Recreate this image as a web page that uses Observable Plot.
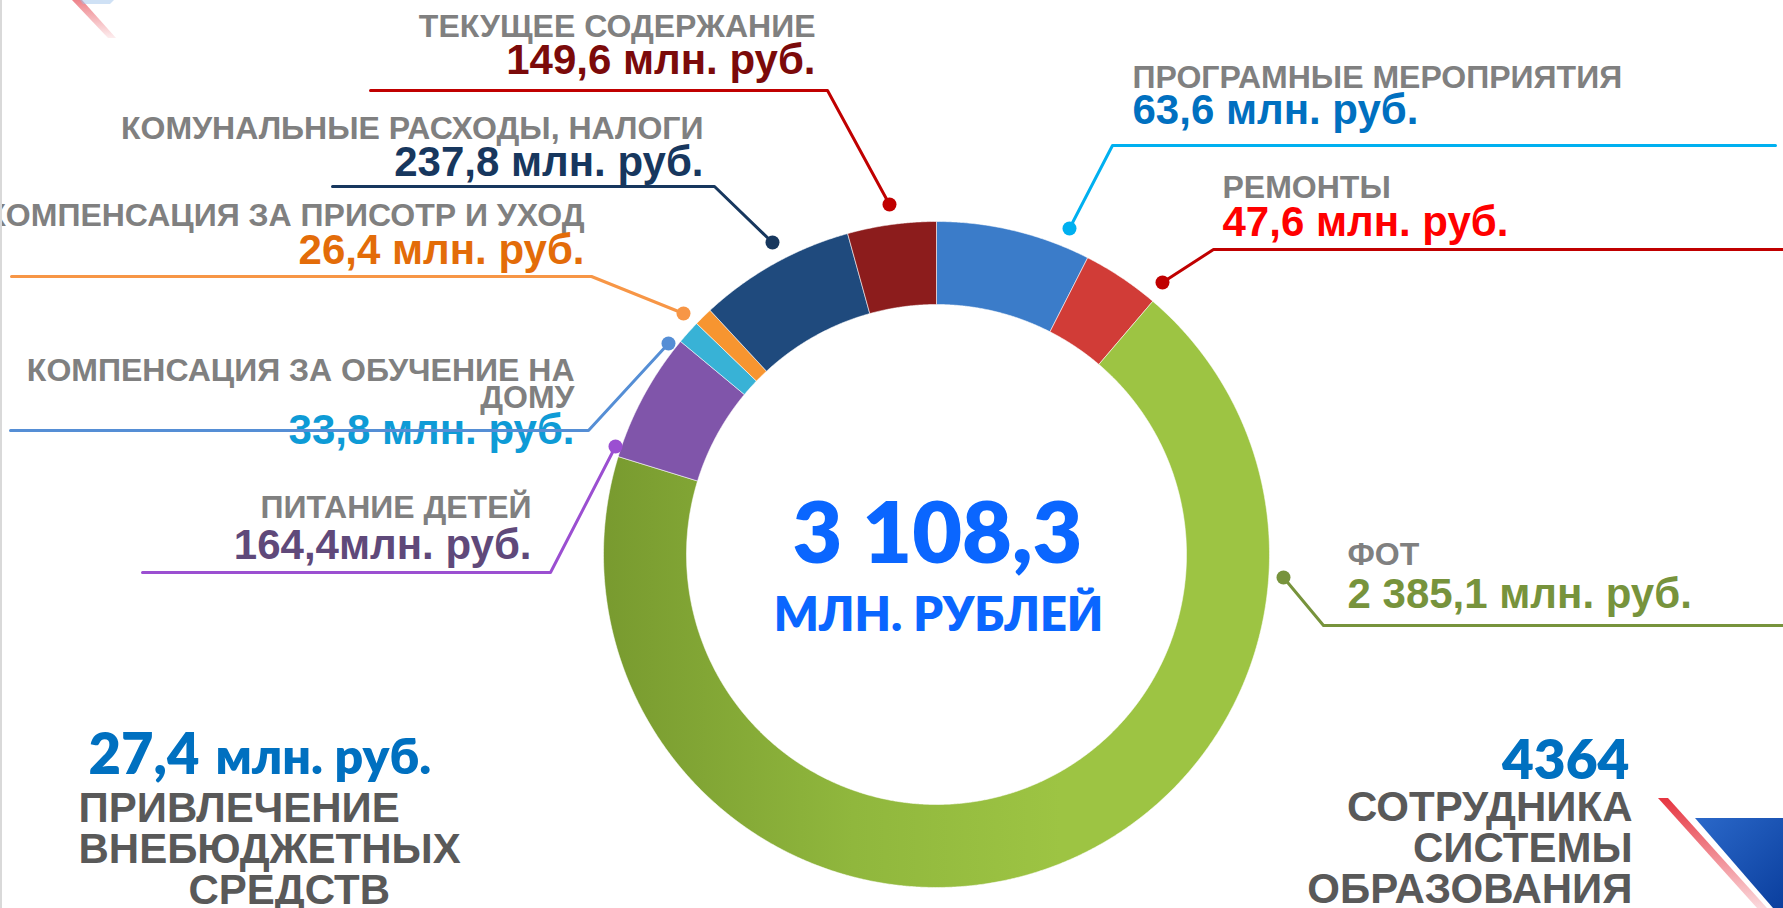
<!DOCTYPE html>
<html><head><meta charset="utf-8">
<script src="https://cdn.jsdelivr.net/npm/d3@7"></script>
<script src="https://cdn.jsdelivr.net/npm/@observablehq/plot@0.6"></script>
<style>
html,body{margin:0;padding:0;background:#fff;overflow:hidden;}
#wrap{position:relative;width:1783px;height:908px;overflow:hidden;background:#fff;}
#wrap svg{position:absolute;left:0;top:0;}
.deco{position:absolute;}
</style></head><body><div id="wrap"></div>
<script>
// ---- DATA ----
const categories = [
  "ПРОГРАМНЫЕ МЕРОПРИЯТИЯ",
  "РЕМОНТЫ",
  "ФОТ",
  "ПИТАНИЕ ДЕТЕЙ",
  "КОМПЕНСАЦИЯ ЗА ОБУЧЕНИЕ НА\nДОМУ",
  "КОМПЕНСАЦИЯ ЗА ПРИСОТР И УХОД",
  "КОМУНАЛЬНЫЕ РАСХОДЫ, НАЛОГИ",
  "ТЕКУЩЕЕ СОДЕРЖАНИЕ"
];
const amounts = [63.6, 47.6, 2385.1, 164.4, 33.8, 26.4, 237.8, 149.6];   // млн. руб. (label values)
const sliceShares = [7.5, 3.75, 68.5, 6.3, 1.15, 0.9, 7.6, 4.3];        // % of ring as drawn
const unitText = "млн. руб.";
const totalAmount = 3108.3;
const totalUnit = "МЛН. РУБЛЕЙ";
const extraBudget = 27.4;
const extraBudgetLines = ["ПРИВЛЕЧЕНИЕ", "ВНЕБЮДЖЕТНЫХ", "СРЕДСТВ"];
const staffCount = 4364;
const staffLines = ["СОТРУДНИКА", "СИСТЕМЫ", "ОБРАЗОВАНИЯ"];

// ---- STYLE / LAYOUT ----
const sliceColors = ["#3b7cc9", "#d13c37", "url(#fotGrad)", "#8055aa", "#38b2d6", "#f79530", "#1f4a7d", "#8c1c1c"];
const valueColors = ["#0070c0", "#ff0000", "#77933c", "#5f497a", "#0e9bd6", "#e36c09", "#17375e", "#7b0a0a"];
const lineColors  = ["#00b0f0", "#c00000", "#77933c", "#9b4fd1", "#558ed5", "#f79646", "#17375e", "#c00000"];
const valueGap    = [" ", " ", " ", "", " ", " ", " ", " "];
const CX = 936, CY = 554, R_OUT = 333, R_IN = 250;
const leaderLayout = [
  {side: "right", tx: 1132, nameY: 87,  valueY: 123, dot: [1069, 228], elbow: [1112, 145], end: 1775},
  {side: "right", tx: 1222, nameY: 197, valueY: 235, dot: [1162, 282], elbow: [1213, 249], end: 1783},
  {side: "right", tx: 1347, nameY: 564, valueY: 607, dot: [1283, 577], elbow: [1323, 625], end: 1783},
  {side: "left",  tx: 531,  nameY: 517, valueY: 558, dot: [615, 446],  elbow: [550, 572],  end: 142},
  {side: "left",  tx: 574,  nameY: 407, valueY: 443, dot: [668, 343],  elbow: [588, 430],  end: 10},
  {side: "left",  tx: 584,  nameY: 225, valueY: 263, dot: [683, 313],  elbow: [591, 276],  end: 11},
  {side: "left",  tx: 703,  nameY: 138, valueY: 175, dot: [772, 242],  elbow: [714, 186],  end: 332},
  {side: "left",  tx: 815,  nameY: 36,  valueY: 73,  dot: [889, 204],  elbow: [827, 90],   end: 370}
];

const fmt = d3.formatLocale({decimal: ",", thousands: " ", grouping: [3], currency: ["", ""]}).format(",.1f");

const rows = categories.map((name, i) => ({
  key: i, name, amount: amounts[i], share: sliceShares[i],
  color: sliceColors[i], valueColor: valueColors[i], lineColor: lineColors[i],
  valueText: fmt(amounts[i]) + valueGap[i] + unitText,
  ...leaderLayout[i]
}));

// ring polygons from pie angles
const arcs = d3.pie().sort(null).value(d => d.share)(rows);
const ringPts = arcs.flatMap(a => {
  const n = Math.max(2, Math.ceil((a.endAngle - a.startAngle) / (Math.PI / 720)));
  const ts = d3.range(n + 1).map(k => a.startAngle + (a.endAngle - a.startAngle) * k / n);
  const pts = [];
  for (const t of ts) pts.push({key: a.data.key, color: a.data.color, x: CX + R_OUT * Math.sin(t), y: CY - R_OUT * Math.cos(t)});
  for (const t of ts.slice().reverse()) pts.push({key: a.data.key, color: a.data.color, x: CX + R_IN * Math.sin(t), y: CY - R_IN * Math.cos(t)});
  pts.push({...pts[0]});
  return pts;
});

const leaderPts = rows.flatMap(d => [
  {key: d.key, c: d.lineColor, x: d.dot[0], y: d.dot[1]},
  {key: d.key, c: d.lineColor, x: d.elbow[0], y: d.elbow[1]},
  {key: d.key, c: d.lineColor, x: d.end, y: d.elbow[1]}
]);

const left = rows.filter(d => d.side === "left");
const right = rows.filter(d => d.side === "right");
const ARIAL = "'Liberation Sans', Arial, sans-serif";
const CALIBRI = "Lato, 'Open Sans', sans-serif";

const nameStyle = {fontFamily: ARIAL, fontWeight: "bold", fontSize: 32, fill: "#808080", lineAnchor: "bottom", lineHeight: 0.84};
const valStyle = {fontFamily: ARIAL, fontWeight: "bold", fontSize: 42, lineAnchor: "bottom"};

const svg = Plot.plot({
  width: 1783, height: 908, margin: 0,
  x: {domain: [0, 1783], range: [0, 1783], axis: null},
  y: {domain: [0, 908], range: [0, 908], axis: null},
  color: {type: "identity"},
  style: {background: "transparent", overflow: "visible"},
  marks: [
    Plot.line(ringPts, {x: "x", y: "y", z: "key", fill: "color", stroke: "#ffffff", strokeWidth: 1, strokeOpacity: 0.55, curve: "linear"}),
    // leader labels
    Plot.text(left, {x: "tx", y: "nameY", text: "name", textAnchor: "end", ...nameStyle}),
    Plot.text(right, {x: "tx", y: "nameY", text: "name", textAnchor: "start", ...nameStyle}),
    Plot.text(left, {x: "tx", y: "valueY", text: "valueText", fill: "valueColor", textAnchor: "end", ...valStyle}),
    Plot.text(right, {x: "tx", y: "valueY", text: "valueText", fill: "valueColor", textAnchor: "start", ...valStyle}),
    Plot.line(leaderPts, {x: "x", y: "y", z: "key", stroke: "c", strokeWidth: 3, curve: "linear"}),
    Plot.dot(rows, {x: d => d.dot[0], y: d => d.dot[1], r: 7, fill: "lineColor", stroke: null}),
    // centre total
    Plot.text([totalAmount], {x: () => CX + 1, y: () => 562, text: d => fmt(d), fontFamily: CALIBRI, fontWeight: 800, fontSize: 86, fill: "#0a66ff", lineAnchor: "bottom"}),
    Plot.text([totalUnit], {x: () => CX + 2, y: () => 630, text: d => d, fontFamily: CALIBRI, fontWeight: 800, fontSize: 47, fill: "#0a66ff", lineAnchor: "bottom"}),
    // bottom-left block
    Plot.text([extraBudget], {x: () => 88, y: () => 773, text: d => fmt(d), textAnchor: "start", fontFamily: CALIBRI, fontWeight: 800, fontSize: 56, fill: "#0070c0", lineAnchor: "bottom"}),
    Plot.text([unitText], {x: () => 215, y: () => 773, text: d => d, textAnchor: "start", fontFamily: CALIBRI, fontWeight: 800, fontSize: 50, fill: "#0070c0", lineAnchor: "bottom"}),
    Plot.text(extraBudgetLines, {x: (d, i) => [78, 78, 188][i], y: (d, i) => 821 + 41 * i, text: d => d, textAnchor: "start", fontFamily: ARIAL, fontWeight: "bold", fontSize: 42, fill: "#595959", lineAnchor: "bottom"}),
    // bottom-right block
    Plot.text([staffCount], {x: () => 1629, y: () => 778, text: d => String(d), textAnchor: "end", fontFamily: CALIBRI, fontWeight: 800, fontSize: 55, fill: "#0070c0", lineAnchor: "bottom"}),
    Plot.text(staffLines, {x: () => 1632, y: (d, i) => 820 + 41 * i, text: d => d, textAnchor: "end", fontFamily: ARIAL, fontWeight: "bold", fontSize: 42, fill: "#595959", lineAnchor: "bottom"})
  ]
});

// gradient for the large green slice
const ns = "http://www.w3.org/2000/svg";
const defs = document.createElementNS(ns, "defs");
defs.innerHTML = `<linearGradient id="fotGrad" gradientUnits="userSpaceOnUse" x1="600" y1="0" x2="1060" y2="0">
  <stop offset="0" stop-color="#789a2f"/><stop offset="0.55" stop-color="#90b73d"/><stop offset="1" stop-color="#9dc443"/></linearGradient>`;
svg.insertBefore(defs, svg.firstChild);

const wrap = document.getElementById("wrap");
wrap.appendChild(svg);

// decorative corner elements
function deco(style) { const d = document.createElement("div"); d.className = "deco"; Object.assign(d.style, style); wrap.appendChild(d); }
deco({left: "0px", top: "0px", width: "2px", height: "908px", background: "#d9d9d9"});
deco({left: "66px", top: "0px", width: "60px", height: "42px", background: "linear-gradient(to bottom, rgba(232,90,100,0.75), rgba(248,190,195,0.1))", clipPath: "polygon(6px 0, 16px 0, 50px 38px, 42px 38px)"});
deco({left: "80px", top: "0px", width: "34px", height: "6px", background: "rgba(160,195,235,0.5)", clipPath: "polygon(0 0, 34px 0, 30px 4px, 3px 4px)"});
deco({left: "1650px", top: "795px", width: "133px", height: "113px", background: "linear-gradient(to bottom, #e5303c, rgba(245,170,178,0.45))", clipPath: "polygon(8px 3px, 18px 3px, 117px 113px, 107px 113px)"});
deco({left: "1690px", top: "815px", width: "93px", height: "93px", background: "linear-gradient(135deg, #2c6acb, #0b3f9e)", clipPath: "polygon(5px 3px, 93px 3px, 93px 93px, 83px 93px)"});
</script></body></html>
